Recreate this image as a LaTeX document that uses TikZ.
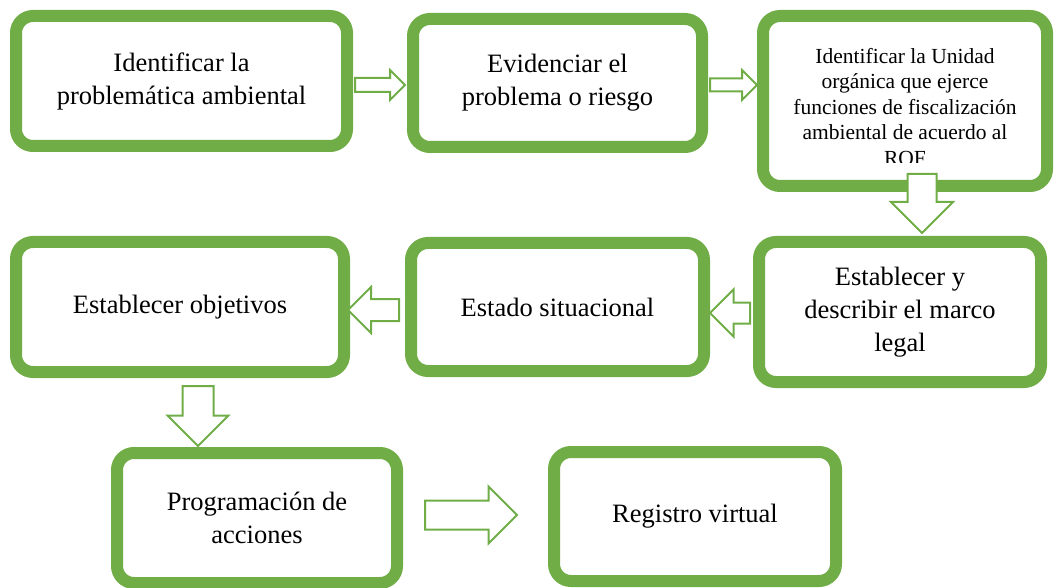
\documentclass[tikz,border=0pt]{standalone}
\usepackage{fontspec}
\setmainfont{Liberation Serif}
\usetikzlibrary{shapes.arrows}
\definecolor{ofgreen}{RGB}{112,173,71}

\begin{document}
\begin{tikzpicture}[x=1pt, y=-1pt,
        box/.style={draw=ofgreen, line width=12pt, rounded corners=17pt, fill=white,
            align=center, inner sep=0pt, font=\fontsize{26.5}{33}\selectfont},
        blockarrow/.style={single arrow, draw=ofgreen, line width=2pt, fill=white,
            inner xsep=0pt, single arrow head indent=0pt, anchor=tail}]
            \useasboundingbox (0,0) rectangle (1055,588);

            \node (b1) [box, minimum width=331pt, minimum height=130pt] at (181.5,81) {Identificar la\\problemática ambiental};
            \node (b2) [box, minimum width=289pt, minimum height=128pt] at (557.5,83) {Evidenciar el\\problema o riesgo};
            \node (b3) [box, minimum width=284pt, minimum height=170pt] at (905,101) {};
            \begin{scope}
                \clip (b3.north west) rectangle ([yshift=29pt]b3.south east);
                \node (t3) [font=\fontsize{21.5}{25.5}\selectfont, align=center] at ([yshift=-6pt]b3.center) {Identificar la Unidad\\orgánica que ejerce\\funciones de fiscalización\\ambiental de acuerdo al\\ROF};
            \end{scope}

            \node (b4) [box, minimum width=282pt, minimum height=140pt] at (900,312) {Establecer y\\describir el marco\\legal};
            \node (b5) [box, minimum width=293pt, minimum height=128pt] at (557.5,307) {Estado situacional};
            \node (b6) [box, minimum width=328pt, minimum height=130pt] at (180,307) {Establecer objetivos};

            \node (b7) [box, minimum width=280pt, minimum height=130pt] at (257,518) {Programación de\\acciones};
            \node (b8) [box, minimum width=282pt, minimum height=129pt] at (695,516.5) {Registro virtual};

            \node (a12) [blockarrow, inner ysep=6pt, single arrow head extend=8pt, minimum height=50pt] at ([shift={(1pt,-4pt)}]b1.east) {};
            \node (a23) [blockarrow, inner ysep=5.5pt, single arrow head extend=8.5pt, minimum height=47pt] at ([shift={(1pt,-2pt)}]b2.east) {};
            \node (a34) [blockarrow, inner ysep=13.5pt, single arrow head extend=16.5pt, minimum height=59pt, rotate=-90] at ([shift={(17pt,19pt)}]b3.south) {};
            \node (a45) [blockarrow, inner ysep=9.5pt, single arrow head extend=13pt, minimum height=40pt, rotate=180] at ([shift={(-2pt,-1pt)}]b4.west) {};
            \node (a56) [blockarrow, inner ysep=10pt, single arrow head extend=12pt, minimum height=51pt, rotate=180] at ([shift={(-5pt,-3pt)}]b5.west) {};
            \node (a67) [blockarrow, inner ysep=14.5pt, single arrow head extend=15pt, minimum height=60pt, rotate=-90] at ([shift={(18pt,-7pt)}]b6.south) {};
            \node (a78) [blockarrow, inner ysep=13.5pt, single arrow head extend=14pt, minimum height=92pt] at ([shift={(21pt,3pt)}]b7.east) {};
        \end{tikzpicture}
\end{document}
